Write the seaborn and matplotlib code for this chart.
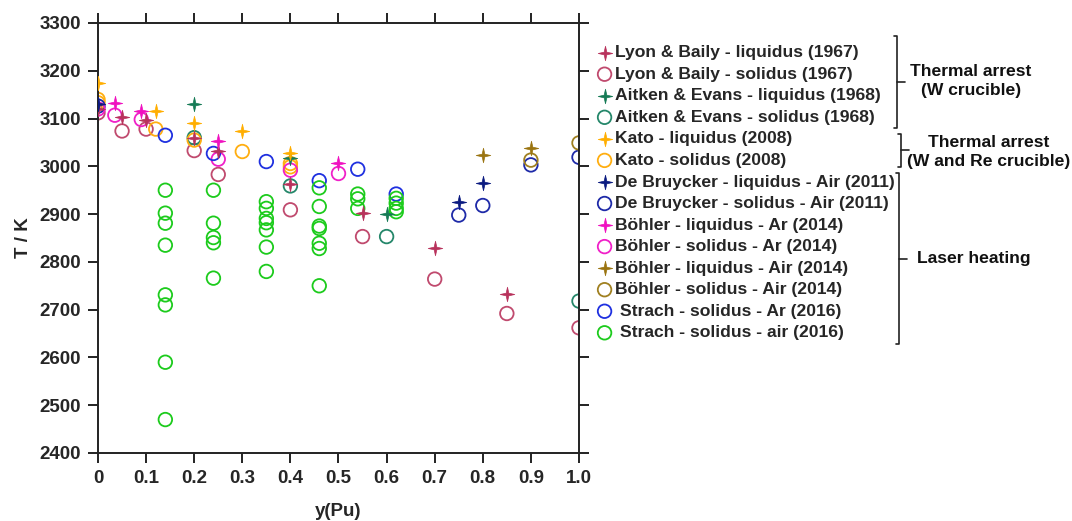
import numpy as np
import matplotlib
matplotlib.use("Agg")
import matplotlib.pyplot as plt
from matplotlib.path import Path
import seaborn as sns

# ---------------- data ----------------
lyon_liq_x = [0.0, 0.05, 0.10, 0.20, 0.25, 0.40, 0.55, 0.70, 0.85]
lyon_liq_T = [3120, 3103, 3097, 3060, 3033, 2963, 2903, 2830, 2733]
lyon_sol_x = [0.0, 0.05, 0.10, 0.20, 0.25, 0.40, 0.55, 0.70, 0.85, 1.0]
lyon_sol_T = [3112, 3074, 3078, 3033, 2983, 2909, 2853, 2764, 2692, 2662]

aitken_liq_x = [0.20, 0.40, 0.60]
aitken_liq_T = [3130, 3018, 2900]
aitken_sol_x = [0.20, 0.40, 0.60, 1.0]
aitken_sol_T = [3060, 2959, 2853, 2718]

kato_liq_x = [0.0, 0.12, 0.20, 0.30, 0.40]
kato_liq_T = [3174, 3116, 3091, 3074, 3027]
kato_sol_x = [0.0, 0.0, 0.12, 0.20, 0.30, 0.40, 0.40]
kato_sol_T = [3140, 3133, 3078, 3055, 3031, 3006, 2999]

debruycker_liq_x = [0.0, 0.75, 0.80]
debruycker_liq_T = [3130, 2925, 2965]
debruycker_sol_x = [0.0, 0.75, 0.80, 0.90, 1.0]
debruycker_sol_T = [3126, 2898, 2918, 3003, 3019]

bohler_ar_liq_x = [0.035, 0.09, 0.25, 0.50]
bohler_ar_liq_T = [3132, 3116, 3054, 3008]
bohler_ar_sol_x = [0.0, 0.035, 0.09, 0.25, 0.40, 0.50]
bohler_ar_sol_T = [3120, 3107, 3098, 3015, 2992, 2985]

bohler_air_liq_x = [0.80, 0.90]
bohler_air_liq_T = [3024, 3038]
bohler_air_sol_x = [0.90, 1.0]
bohler_air_sol_T = [3013, 3049]

strach_ar_x = [0.14, 0.24, 0.35, 0.46, 0.54, 0.62]
strach_ar_T = [3065, 3027, 3010, 2970, 2994, 2942]

strach_air_x = [0.14] * 8 + [0.24] * 5 + [0.35] * 7 + [0.46] * 7 + [0.54] * 3 + [0.62] * 4
strach_air_T = [2950, 2902, 2881, 2835, 2731, 2710, 2590, 2470,
                2950, 2881, 2851, 2840, 2766,
                2926, 2912, 2891, 2882, 2867, 2831, 2780,
                2955, 2916, 2875, 2870, 2839, 2828, 2750,
                2942, 2932, 2912,
                2933, 2923, 2912, 2905]

x_ticks = [0, 0.1, 0.2, 0.3, 0.4, 0.5, 0.6, 0.7, 0.8, 0.9, 1.0]
x_tick_labels = ["0", "0.1", "0.2", "0.3", "0.4", "0.5", "0.6", "0.7", "0.8", "0.9", "1.0"]
y_ticks = [2400, 2500, 2600, 2700, 2800, 2900, 3000, 3100, 3200, 3300]

groups = ["Thermal arrest\n(W crucible)", "Thermal arrest\n(W and Re crucible)", "Laser heating"]

# ---------------- style ----------------
sns.set_style("ticks")
FAM = ["Liberation Sans", "DejaVu Sans"]
plt.rcParams["font.family"] = FAM
plt.rcParams["font.weight"] = "bold"

fig = plt.figure(figsize=(10.72, 5.21), dpi=100)
ax = fig.add_axes([98 / 1072, 1 - 453 / 521, (579 - 98) / 1072, (453 - 23) / 521])

# 4-point star marker
r_in = 0.26
verts = []
for k in range(8):
    ang = np.pi / 2 + k * np.pi / 4
    r = 1.0 if k % 2 == 0 else r_in
    verts.append((r * np.cos(ang), r * np.sin(ang)))
verts.append(verts[0])
codes = [Path.MOVETO] + [Path.LINETO] * 7 + [Path.CLOSEPOLY]
star = Path(verts, codes)

series = [
    (lyon_liq_x, lyon_liq_T, "liq", "#B8325C", "Lyon & Baily - liquidus (1967)"),
    (lyon_sol_x, lyon_sol_T, "sol", "#C04A6E", "Lyon & Baily - solidus (1967)"),
    (aitken_liq_x, aitken_liq_T, "liq", "#157A55", "Aitken & Evans - liquidus (1968)"),
    (aitken_sol_x, aitken_sol_T, "sol", "#25876A", "Aitken & Evans - solidus (1968)"),
    (kato_liq_x, kato_liq_T, "liq", "#FFAE00", "Kato - liquidus (2008)"),
    (kato_sol_x, kato_sol_T, "sol", "#FFAE10", "Kato - solidus (2008)"),
    (debruycker_liq_x, debruycker_liq_T, "liq", "#0A1A80", "De Bruycker - liquidus - Air (2011)"),
    (debruycker_sol_x, debruycker_sol_T, "sol", "#1E2AA8", "De Bruycker - solidus - Air (2011)"),
    (bohler_ar_liq_x, bohler_ar_liq_T, "liq", "#F010C0", "Böhler - liquidus - Ar (2014)"),
    (bohler_ar_sol_x, bohler_ar_sol_T, "sol", "#F020C8", "Böhler - solidus - Ar (2014)"),
    (bohler_air_liq_x, bohler_air_liq_T, "liq", "#9A7410", "Böhler - liquidus - Air (2014)"),
    (bohler_air_sol_x, bohler_air_sol_T, "sol", "#A08020", "Böhler - solidus - Air (2014)"),
    (strach_ar_x, strach_ar_T, "sol", "#1F30E0", " Strach - solidus - Ar (2016)"),
    (strach_air_x, strach_air_T, "sol", "#1CCB1C", " Strach - solidus - air (2016)"),
]

for xs, ts, kind, col, lab in series:
    if kind == "liq":
        sns.scatterplot(x=xs, y=ts, ax=ax, marker=star, s=110, color=col,
                        facecolor=col, edgecolor=col, linewidth=0.5, label=lab, zorder=3)
    else:
        sns.scatterplot(x=xs, y=ts, ax=ax, marker="o", s=95, color=col,
                        facecolor="none", edgecolor=col, linewidth=1.3, label=lab, zorder=2)

ax.set_xlim(0, 1.0)
ax.set_ylim(2400, 3300)
ax.set_xticks(x_ticks)
ax.set_xticklabels(x_tick_labels)
ax.set_yticks(y_ticks)

for sp in ax.spines.values():
    sp.set_visible(True)
    sp.set_linewidth(1.4)
    sp.set_color("#222222")
ax.tick_params(axis="both", which="both", direction="out", length=7.5, width=1.4,
               color="#222222", labelsize=13.5, top=True, right=True,
               labeltop=False, labelright=False, pad=5)
for lbl in ax.get_xticklabels() + ax.get_yticklabels():
    lbl.set_fontweight("bold")

ax.set_xlabel("y(Pu)", fontsize=13.5, fontweight="bold", labelpad=11)
ax.set_ylabel("T / K", fontsize=13.5, fontweight="bold", labelpad=5)

handles, labels = ax.get_legend_handles_labels()
ax.legend(handles, labels, loc="upper left", bbox_to_anchor=(598 / 1072, 1 - 45 / 521),
          bbox_transform=fig.transFigure, frameon=False,
          prop={"family": FAM, "weight": "bold", "size": 12.6},
          handlelength=0.75, handletextpad=0.22, labelspacing=0.36, borderpad=0,
          borderaxespad=0, markerscale=1.0)

# overlay for brackets (figure pixel coordinates)
ov = fig.add_axes([0, 0, 1, 1], facecolor="none")
ov.set_xlim(0, 1072)
ov.set_ylim(521, 0)
ov.axis("off")

brackets = [
    (897, 36, 128, 82),
    (900.5, 134, 167, 150),
    (899, 173, 344, 259),
]
for bx, y0, y1, ym in brackets:
    ov.plot([bx - 3, bx, bx, bx - 3], [y0, y0, y1, y1], color="#222222", lw=1.2)
    ov.plot([bx, bx + 8], [ym, ym], color="#222222", lw=1.2)

txt_kw = dict(fontsize=12.6, fontweight="bold", family=FAM,
              color="#111111", ha="center", va="center", linespacing=1.3)
ov.text(971, 81, groups[0], **txt_kw)
ov.text(989, 152, groups[1], **txt_kw)
ov.text(974, 259, groups[2], **txt_kw)

fig.savefig("out.png", dpi=100, facecolor="white")
